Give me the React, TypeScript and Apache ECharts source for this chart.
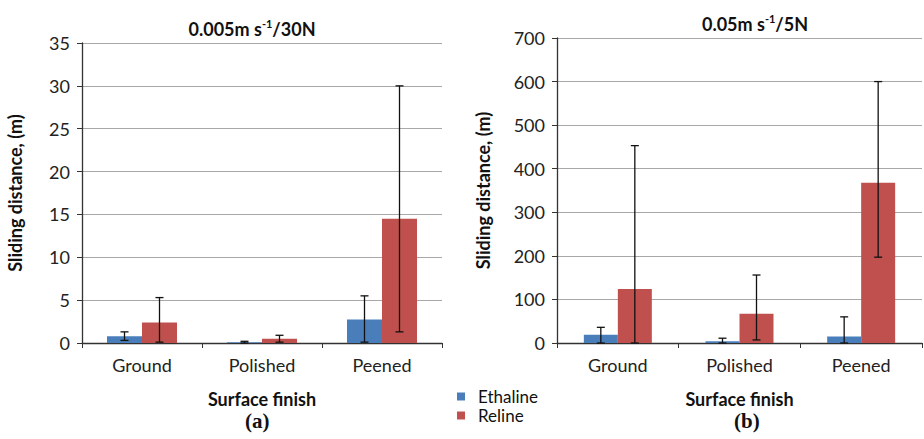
import React, { useEffect, useRef } from "react";
import * as echarts from "echarts";

const categories = ["Ground", "Polished", "Peened"];
const seriesNames = ["Ethaline", "Reline"];

// Chart (a): 0.005 m s-1 / 30 N
const aEthaline = [0.8, 0.1, 2.75];
const aEthalineLow = [0.3, 0.0, 0.1];
const aEthalineHigh = [1.3, 0.2, 5.5];
const aReline = [2.4, 0.5, 14.5];
const aRelineLow = [0.1, 0.1, 1.3];
const aRelineHigh = [5.3, 0.9, 30];
const aTicks = { min: 0, max: 35, interval: 5 };

// Chart (b): 0.05 m s-1 / 5 N
const bEthaline = [19, 4, 15];
const bEthalineLow = [0, 0, 0];
const bEthalineHigh = [36, 11, 60];
const bReline = [124, 67, 368];
const bRelineLow = [0, 7, 197];
const bRelineHigh = [453, 156, 600];
const bTicks = { min: 0, max: 700, interval: 100 };

const BLUE = "#4a7ebb";
const RED = "#c0504d";
const FONT = "Lato, 'Open Sans', sans-serif";

function errSeries(lows: number[], highs: number[], side: number, bw: number, axisIdx: number) {
  return {
    type: "custom",
    xAxisIndex: axisIdx,
    yAxisIndex: axisIdx,
    z: 10,
    silent: true,
    data: lows.map((l, i) => [i, l, highs[i]]),
    encode: { x: 0, y: [1, 2] },
    renderItem: (params: any, api: any) => {
      const c = api.value(0);
      const lo = api.coord([c, api.value(1)]);
      const hi = api.coord([c, api.value(2)]);
      const x = lo[0] + (side * bw) / 2;
      const cap = 4;
      const st = { stroke: "#111", lineWidth: 1.3 };
      return {
        type: "group",
        children: [
          { type: "line", shape: { x1: x, y1: lo[1], x2: x, y2: hi[1] }, style: st },
          { type: "line", shape: { x1: x - cap, y1: hi[1], x2: x + cap, y2: hi[1] }, style: st },
          { type: "line", shape: { x1: x - cap, y1: lo[1], x2: x + cap, y2: lo[1] }, style: st },
        ],
      };
    },
  };
}

export default function App() {
  const ref = useRef<HTMLDivElement>(null);
  useEffect(() => {
    if (!ref.current) return;
    const chart = echarts.init(ref.current, null, { renderer: "svg" });
    const bwA = 35;
    const bwB = 34;
    const xAxisCommon = {
      type: "category",
      data: categories,
      axisLine: { lineStyle: { color: "#333", width: 1.3 } },
      axisTick: { show: true, length: 5, lineStyle: { color: "#333" } },
      axisLabel: { color: "#222", fontSize: 18, fontFamily: FONT, margin: 13 },
      name: "Surface finish",
      nameLocation: "middle",
      nameGap: 47,
      nameTextStyle: { color: "#111", fontSize: 18, lineHeight: 18, fontWeight: "bold", fontFamily: FONT },
    };
    const yAxisCommon = {
      type: "value",
      name: "Sliding distance, (m)",
      nameLocation: "middle",
      nameTextStyle: { color: "#111", fontSize: 18, fontWeight: "bold", fontFamily: FONT },
      axisLine: { show: true, lineStyle: { color: "#333", width: 1.3 } },
      axisTick: { show: true, length: 5, lineStyle: { color: "#333" } },
      axisLabel: { color: "#222", fontSize: 18, fontFamily: FONT, margin: 12 },
      splitLine: { lineStyle: { color: "#a8a8a8", width: 1.2 } },
    };
    const titleRich = {
      m: { fontSize: 18, fontWeight: "bold", fontFamily: FONT, color: "#111", lineHeight: 22 },
      s: { fontSize: 11, fontWeight: "bold", fontFamily: FONT, color: "#111", verticalAlign: "top", lineHeight: 22, padding: [0, 0, 8, 0] },
    };
    chart.setOption({
      animation: false,
      title: [
        {
          text: "{m|0.005m s}{s|-1}{m|/30N}",
          left: 247,
          top: 13,
          textAlign: "center",
          textStyle: { rich: titleRich },
        },
        {
          text: "{m|0.05m s}{s|-1}{m|/5N}",
          left: 750,
          top: 8,
          textAlign: "center",
          textStyle: { rich: titleRich },
        },
      ],
      legend: {
        orient: "vertical",
        left: 457,
        top: 388,
        padding: 0,
        itemWidth: 8,
        itemHeight: 8,
        itemGap: 2,
        icon: "rect",
        data: seriesNames,
        textStyle: { color: "#111", fontSize: 17, lineHeight: 16, fontFamily: FONT, padding: [0, 0, 0, 8] },
      },
      grid: [
        { left: 82, top: 43, width: 360, height: 300 },
        { left: 557, top: 38, width: 365, height: 305 },
      ],
      xAxis: [
        { ...xAxisCommon, gridIndex: 0 },
        { ...xAxisCommon, gridIndex: 1 },
      ],
      yAxis: [
        { ...yAxisCommon, gridIndex: 0, ...aTicks, nameGap: 58 },
        { ...yAxisCommon, gridIndex: 1, ...bTicks, nameGap: 65 },
      ],
      graphic: [
        { type: "text", left: 245, top: 410, style: { text: "(a)", fontSize: 21, lineHeight: 21, fontWeight: "bold", fontFamily: "'Liberation Serif', serif", fill: "#111" } },
        { type: "text", left: 734, top: 410, style: { text: "(b)", fontSize: 21, lineHeight: 21, fontWeight: "bold", fontFamily: "'Liberation Serif', serif", fill: "#111" } },
      ],
      series: [
        { type: "bar", name: "Ethaline", xAxisIndex: 0, yAxisIndex: 0, data: aEthaline, barWidth: bwA, barGap: "0%", itemStyle: { color: BLUE } },
        { type: "bar", name: "Reline", xAxisIndex: 0, yAxisIndex: 0, data: aReline, barWidth: bwA, barGap: "0%", itemStyle: { color: RED } },
        { type: "bar", name: "Ethaline", xAxisIndex: 1, yAxisIndex: 1, data: bEthaline, barWidth: bwB, barGap: "0%", itemStyle: { color: BLUE } },
        { type: "bar", name: "Reline", xAxisIndex: 1, yAxisIndex: 1, data: bReline, barWidth: bwB, barGap: "0%", itemStyle: { color: RED } },
        errSeries(aEthalineLow, aEthalineHigh, -1, bwA, 0),
        errSeries(aRelineLow, aRelineHigh, 1, bwA, 0),
        errSeries(bEthalineLow, bEthalineHigh, -1, bwB, 1),
        errSeries(bRelineLow, bRelineHigh, 1, bwB, 1),
      ],
    });
    return () => chart.dispose();
  }, []);
  return <div ref={ref} style={{ width: 924, height: 439, position: "absolute", left: 0, top: 0 }} />;
}
